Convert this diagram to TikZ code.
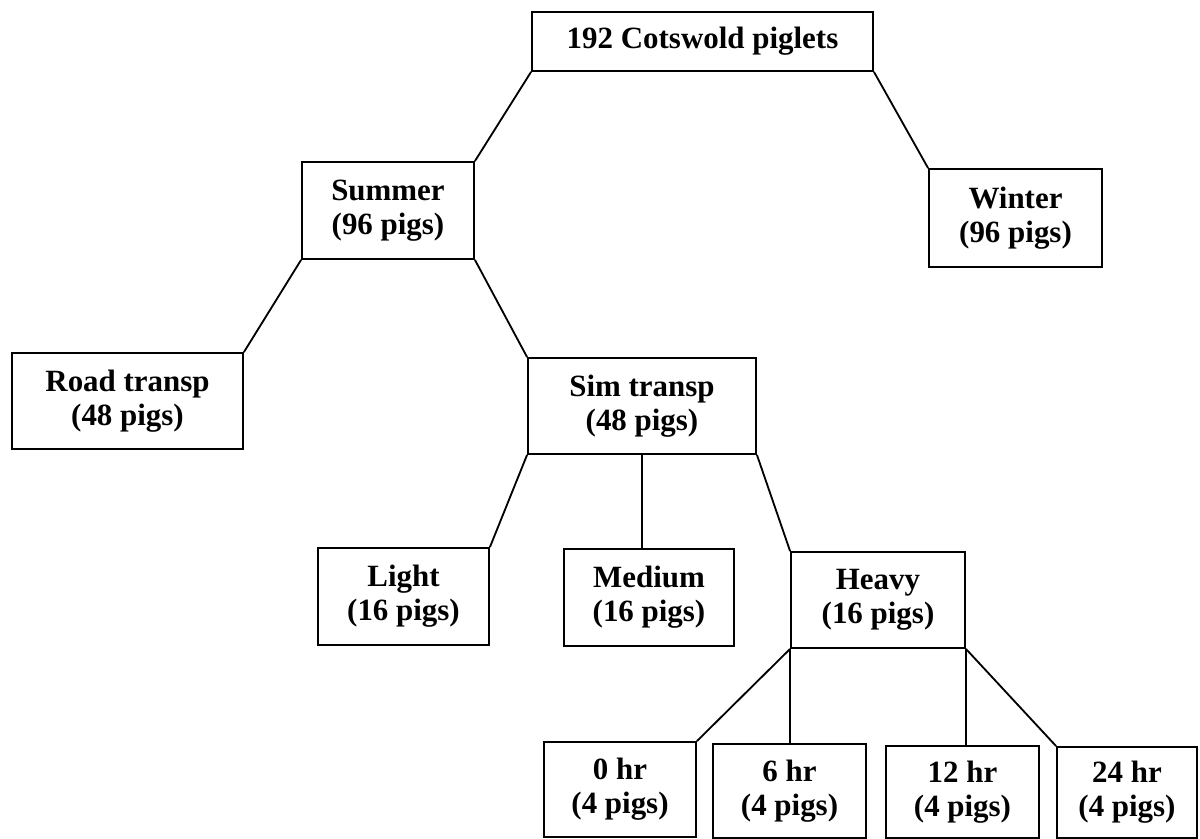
\documentclass[tikz,border=0pt]{standalone}
\usepackage{fontspec}
\setmainfont{Liberation Serif}

\begin{document}
\begin{tikzpicture}[x=0.025cm, y=-0.025cm, line width=1.3pt,
    pigbox/.style={draw, inner sep=0pt, align=center,
        font=\bfseries\fontsize{22}{24}\selectfont}]
    \useasboundingbox (0, 0) rectangle (1200, 839);

    % Top of the tree
    \node[pigbox, minimum width=8.525cm, minimum height=1.475cm] (piglets) at (702.5, 41.5) {192 Cotswold piglets};

    % Season
    \node[pigbox, minimum width=4.3cm, minimum height=2.425cm] (summer) at (388, 210.5) {Summer\\(96 pigs)};
    \node[pigbox, minimum width=4.325cm, minimum height=2.45cm] (winter) at (1015.5, 218) {Winter\\(96 pigs)};

    % Transport
    \node[pigbox, minimum width=5.775cm, minimum height=2.4cm] (road) at (127.5, 401) {Road transp\\(48 pigs)};
    \node[pigbox, minimum width=5.7cm, minimum height=2.4cm] (sim) at (642, 406) {Sim transp\\(48 pigs)};

    % Load
    \node[pigbox, minimum width=4.275cm, minimum height=2.425cm] (light) at (403.5, 596.5) {Light\\(16 pigs)};
    \node[pigbox, minimum width=4.25cm, minimum height=2.425cm] (medium) at (649, 597.5) {Medium\\(16 pigs)};
    \node[pigbox, minimum width=4.35cm, minimum height=2.4cm] (heavy) at (878, 600) {Heavy\\(16 pigs)};

    % Time
    \node[pigbox, minimum width=3.8cm, minimum height=2.375cm] (hr0) at (620, 789.5) {0 hr\\(4 pigs)};
    \node[pigbox, minimum width=3.825cm, minimum height=2.35cm] (hr6) at (789.5, 791) {6 hr\\(4 pigs)};
    \node[pigbox, minimum width=3.825cm, minimum height=2.3cm] (hr12) at (962.5, 792) {12 hr\\(4 pigs)};
    \node[pigbox, minimum width=3.5cm, minimum height=2.275cm] (hr24) at (1127, 792.5) {24 hr\\(4 pigs)};

    % Connectors
    \draw (piglets.south west) -- (summer.north east);
    \draw (piglets.south east) -- (winter.north west);
    \draw (summer.south west) -- (road.north east);
    \draw (summer.south east) -- (sim.north west);
    \draw (sim.south west) -- (light.north east);
    \draw (sim.south) -- (sim.south |- medium.north);
    \draw (sim.south east) -- (heavy.north west);
    \draw (heavy.south west) -- (hr0.north east);
    \draw (heavy.south west) -- (heavy.south west |- hr6.north);
    \draw (heavy.south east) -- (heavy.south east |- hr12.north);
    \draw (heavy.south east) -- (hr24.north west);
\end{tikzpicture}
\end{document}
